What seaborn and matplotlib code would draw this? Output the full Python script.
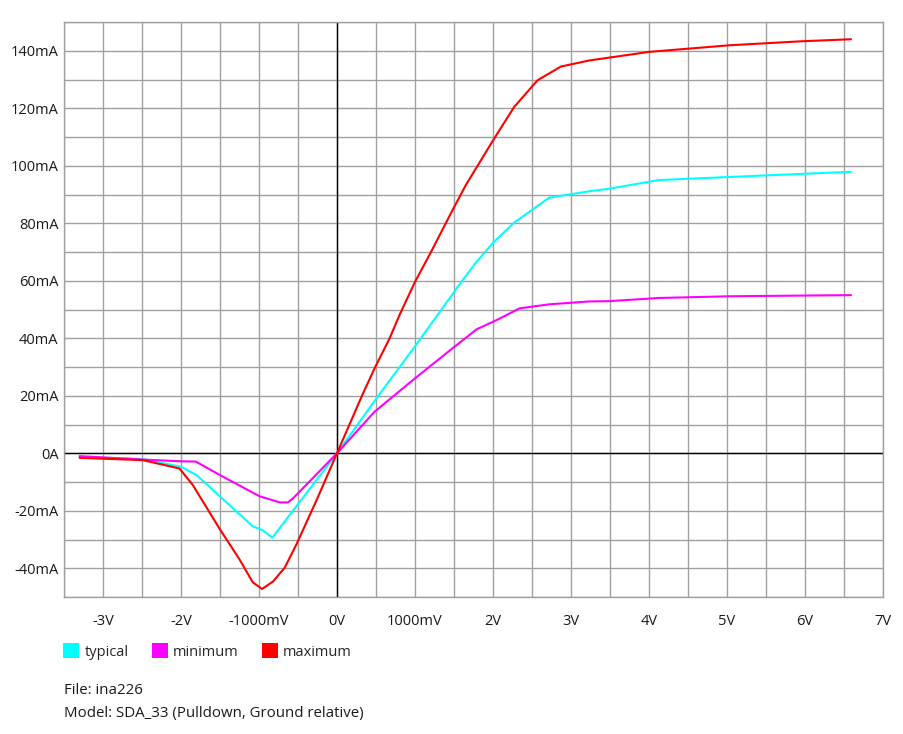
import matplotlib
matplotlib.use("Agg")
import matplotlib.pyplot as plt
import seaborn as sns
import pandas as pd
from matplotlib.patches import Patch

# ---- data (V, mA) ----
series_names = ["typical", "minimum", "maximum"]
series_colors = ["#00FFFF", "#FF00FF", "#FF0000"]

typical_v = [-3.30, -2.49, -2.00, -1.80, -1.50, -1.08, -0.95, -0.83, 0.0, 0.53, 1.0, 1.34,
             1.61, 1.78, 2.0, 2.27, 2.72, 3.23, 3.49, 4.12, 5.03, 6.59]
typical_i = [-1.3, -2.0, -4.7, -7.6, -15.0, -25.4, -26.8, -29.4, 0.0, 20.0, 37.2, 50.0,
             60.2, 66.3, 73.2, 80.2, 88.9, 91.1, 92.0, 95.0, 96.1, 97.9]

minimum_v = [-3.30, -2.49, -2.00, -1.81, -1.50, -0.99, -0.73, -0.63, -0.56, 0.0, 0.48, 0.97,
             1.49, 1.79, 2.06, 2.34, 2.72, 3.23, 3.49, 4.12, 5.03, 6.59]
minimum_i = [-1.0, -2.2, -2.8, -2.9, -7.6, -15.0, -17.1, -17.1, -15.6, 0.0, 14.4, 25.4,
             36.7, 43.1, 46.5, 50.4, 51.8, 52.8, 52.9, 54.0, 54.6, 55.0]

maximum_v = [-3.30, -2.49, -2.02, -1.85, -1.50, -1.25, -1.08, -0.96, -0.82, -0.67, -0.52,
             -0.26, 0.0, 0.32, 0.49, 0.675, 0.80, 1.0, 1.205, 1.48, 1.65, 2.0, 2.27, 2.57,
             2.87, 3.23, 4.0, 5.03, 5.96, 6.59]
maximum_i = [-1.6, -2.4, -5.3, -11.0, -26.5, -36.9, -44.9, -47.2, -44.6, -39.8, -31.7,
             -16.2, 0.0, 20.0, 30.0, 40.0, 48.0, 59.6, 70.0, 84.5, 93.2, 108.8, 120.4, 129.7,
             134.5, 136.6, 139.6, 141.9, 143.3, 144.0]

x_ticks = [-3, -2, -1, 0, 1, 2, 3, 4, 5, 6, 7]
x_tick_labels = ["-3V", "-2V", "-1000mV", "0V", "1000mV", "2V", "3V", "4V", "5V", "6V", "7V"]
y_ticks = [-40, -20, 0, 20, 40, 60, 80, 100, 120, 140]
y_tick_labels = ["-40mA", "-20mA", "0A", "20mA", "40mA", "60mA", "80mA", "100mA", "120mA", "140mA"]

footer_lines = ["File: ina226", "Model: SDA_33 (Pulldown, Ground relative)"]

frames = []
for name, v, i in [("typical", typical_v, typical_i),
                   ("minimum", minimum_v, minimum_i),
                   ("maximum", maximum_v, maximum_i)]:
    frames.append(pd.DataFrame({"V": v, "mA": i, "series": name}))
df = pd.concat(frames, ignore_index=True)

sns.set_theme(style="white")
plt.rcParams["font.family"] = ["Open Sans", "DejaVu Sans"]
plt.rcParams["font.size"] = 10.5

fig = plt.figure(figsize=(9.04, 7.34), dpi=100)
ax = fig.add_axes([64 / 904, 1 - 597 / 734, (883 - 64) / 904, (597 - 22) / 734])

sns.lineplot(data=df, x="V", y="mA", hue="series", hue_order=series_names,
             palette=series_colors, sort=False, estimator=None, units="series",
             linewidth=1.5, legend=False, ax=ax, zorder=3)

ax.set_xlim(-3.5, 7)
ax.set_ylim(-50, 150)
ax.set_xticks(x_ticks)
ax.set_xticklabels(x_tick_labels)
ax.set_yticks(y_ticks)
ax.set_yticklabels(y_tick_labels)
ax.set_xticks([t + 0.5 for t in range(-4, 7)], minor=True)
ax.set_yticks([t for t in range(-50, 151, 10)], minor=True)
ax.grid(True, which="both", color="#a0a0a0", linewidth=1.0, zorder=0)
ax.set_axisbelow(True)
ax.axhline(0, color="black", linewidth=1.0, zorder=2)
ax.axvline(0, color="black", linewidth=1.0, zorder=2)
ax.tick_params(axis="both", which="both", length=0, labelsize=10.5, colors="#1a1a1a")
ax.tick_params(axis="x", pad=12)
ax.tick_params(axis="y", pad=4)
ax.set_xlabel("")
ax.set_ylabel("")
for s in ax.spines.values():
    s.set_color("#a0a0a0")
    s.set_linewidth(1.0)

handles = [Patch(facecolor=c, edgecolor="none", label=n) for n, c in zip(series_names, series_colors)]
fig.legend(handles=handles, loc="upper left", bbox_to_anchor=(50 / 904, 1 - 630 / 734),
           ncol=3, frameon=False, handlelength=1.1, handleheight=1.2, handletextpad=0.35,
           columnspacing=1.6, fontsize=10.5)

fig.text(64 / 904, 1 - 690 / 734, footer_lines[0], fontsize=10.8, va="center", ha="left", color="#1a1a1a")
fig.text(64 / 904, 1 - 714 / 734, footer_lines[1], fontsize=10.8, va="center", ha="left", color="#1a1a1a")

fig.savefig("out.png", dpi=100)
